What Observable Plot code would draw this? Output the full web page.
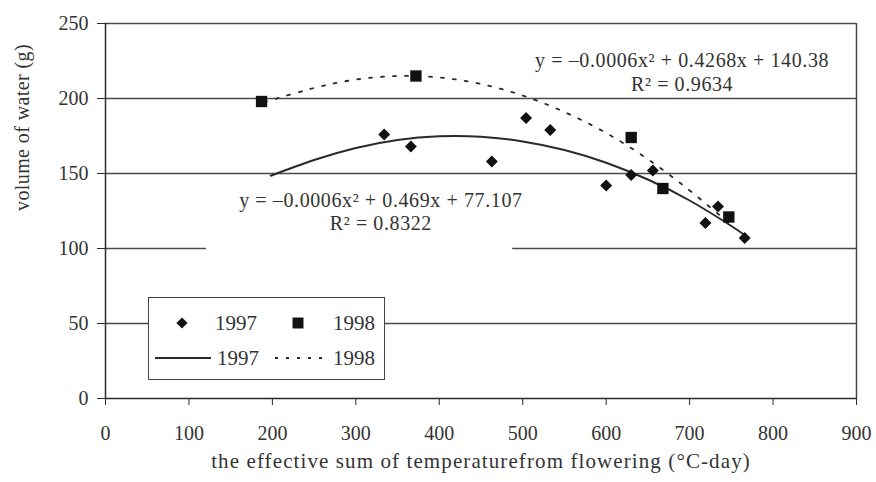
<!DOCTYPE html>
<html>
<head>
<meta charset="utf-8">
<script src="https://cdn.jsdelivr.net/npm/d3@7"></script>
<script src="https://cdn.jsdelivr.net/npm/@observablehq/plot@0.6"></script>
<style>
  html, body { margin: 0; padding: 0; background: #fff; }
  #wrap { position: relative; width: 876px; height: 482px; }
  #wrap svg text { font-family: 'Liberation Serif', 'DejaVu Serif', serif; }
  #legend { position: absolute; left: 148px; top: 297px; width: 235px; height: 81px;
            background: #fff; border: 1.5px solid #444; }
</style>
</head>
<body>
<div id="wrap"></div>
<script>
// ---- data ----
const xTicks = [0, 100, 200, 300, 400, 500, 600, 700, 800, 900];
const yTicks = [0, 50, 100, 150, 200, 250];

// 1997 measured points (effective temperature sum, volume of water)
const x1997 = [334, 366, 463, 504, 533, 600, 630, 656, 719, 734, 766];
const y1997 = [176, 168, 158, 187, 179, 142, 149, 152, 117, 128, 107];

// 1998 measured points
const x1998 = [187, 372, 630, 668, 747];
const y1998 = [198, 215, 174, 140, 121];

// trend curves
const xTrend1997 = [198, 250, 300, 350, 400, 450, 500, 550, 600, 650, 700, 750, 766];
const yTrend1997 = [148.5, 159, 167, 172.3, 174.8, 174.5, 171.4, 165.7, 157.2, 146, 132, 115, 108.8];
const xTrend1998 = [190, 250, 300, 350, 400, 450, 500, 550, 600, 650, 700, 747];
const yTrend1998 = [197.5, 207, 212.6, 215, 214, 209.7, 202, 191, 177, 159.5, 138.7, 117];

const eq1997 = ["y = \u20130.0006x\u00B2 + 0.469x + 77.107", "R\u00B2 = 0.8322"];
const eq1998 = ["y = \u20130.0006x\u00B2 + 0.4268x + 140.38", "R\u00B2 = 0.9634"];

const xTitle = "the effective sum of temperaturefrom flowering (\u00B0C-day)";
const yTitle = "volume of water (g)";
const legendLabels = ["1997", "1998"];

// ---- build ----
const pts97 = x1997.map((x, i) => ({x, y: y1997[i]}));
const pts98 = x1998.map((x, i) => ({x, y: y1998[i]}));
const tr97 = xTrend1997.map((x, i) => ({x, y: yTrend1997[i]}));
const tr98 = xTrend1998.map((x, i) => ({x, y: yTrend1998[i]}));

const ink = "#2a2a2a";
const gridInk = "#4a4a4a";
const serif = "'Liberation Serif', 'DejaVu Serif', serif";

const chart = Plot.plot({
  width: 876,
  height: 482,
  marginLeft: 105,
  marginRight: 20,
  marginTop: 23,
  marginBottom: 84,
  style: {fontFamily: serif, fontSize: "20px", color: "#333", background: "#fff"},
  x: {domain: [0, 900], label: null},
  y: {domain: [0, 250], label: null},
  marks: [
    Plot.ruleY(yTicks.filter(d => d > 0), {stroke: gridInk, strokeWidth: 1.5}),
    // gap in the 100 gridline behind the lower equation
    Plot.rect([yTicks[2]], {x1: 121, x2: 488, y1: d => d - 3, y2: d => d + 3, fill: "#fff"}),
    Plot.ruleX([900], {stroke: gridInk, strokeWidth: 1.5}),
    Plot.axisX({ticks: xTicks, tickSize: 7, tickPadding: 20, stroke: ink, fill: "#333", label: null, fontSize: 20, fontFamily: serif}),
    Plot.axisY({ticks: yTicks, tickSize: 8, tickPadding: 9, stroke: ink, fill: "#333", label: null, fontSize: 20, fontFamily: serif}),
    Plot.ruleX([0], {stroke: ink, strokeWidth: 1.5}),
    Plot.ruleY([0], {stroke: ink, strokeWidth: 1.5}),
    Plot.line(tr98, {x: "x", y: "y", stroke: ink, strokeWidth: 1.8, strokeDasharray: "3,9", curve: "natural"}),
    Plot.line(tr97, {x: "x", y: "y", stroke: ink, strokeWidth: 2, curve: "natural"}),
    Plot.dot(pts97, {x: "x", y: "y", symbol: "diamond2", fill: "#111", stroke: "none", r: 5.4}),
    Plot.dot(pts98, {x: "x", y: "y", symbol: "square", fill: "#111", stroke: "none", r: 6.4}),
    Plot.text([eq1997[0]], {x: 330, y: 132, fill: "#333", fontSize: 20, className: "eq"}),
    Plot.text([eq1997[1]], {x: 330, y: 116.7, fill: "#333", fontSize: 20, className: "eq"}),
    Plot.text([eq1998[0]], {x: 691, y: 225.3, fill: "#333", fontSize: 20, className: "eq"}),
    Plot.text([eq1998[1]], {x: 691, y: 209.3, fill: "#333", fontSize: 20, className: "eq"}),
    Plot.text([xTitle], {frameAnchor: "bottom", dy: 69, fill: "#333", fontSize: 21, className: "xt"}),
    Plot.text([yTitle], {frameAnchor: "left", dx: -83, rotate: -90, fill: "#333", fontSize: 20, className: "yt"})
  ]
});

d3.select(chart).selectAll(".eq text").style("letter-spacing", "0.6px");
d3.select(chart).selectAll(".xt text").style("letter-spacing", "1.1px");
d3.select(chart).selectAll(".yt text").style("letter-spacing", "0.4px");

const wrap = document.getElementById("wrap");
wrap.appendChild(chart);

// legend box inside the plot area
const lg = document.createElement("div");
lg.id = "legend";
const s = d3.select(lg).append("svg").attr("width", 235).attr("height", 81)
  .style("font-family", serif).style("font-size", "21px");
s.append("path").attr("d", d3.symbol(d3.symbolDiamond2, 80)()).attr("transform", "translate(33,25)").attr("fill", "#111");
s.append("path").attr("d", d3.symbol(d3.symbolSquare, 120)()).attr("transform", "translate(149,25)").attr("fill", "#111");
s.append("line").attr("x1", 6).attr("x2", 62).attr("y1", 60).attr("y2", 60).attr("stroke", ink).attr("stroke-width", 1.8);
s.append("line").attr("x1", 126).attr("x2", 176).attr("y1", 60).attr("y2", 60).attr("stroke", ink).attr("stroke-width", 1.8).attr("stroke-dasharray", "3,8");
[[66, 25, 0], [184, 25, 1], [68, 60, 0], [184, 60, 1]].forEach(([x, y, k]) => {
  s.append("text").attr("x", x).attr("y", y).attr("dy", "0.35em").attr("fill", "#333").text(legendLabels[k]);
});
wrap.appendChild(lg);
</script>
</body>
</html>
